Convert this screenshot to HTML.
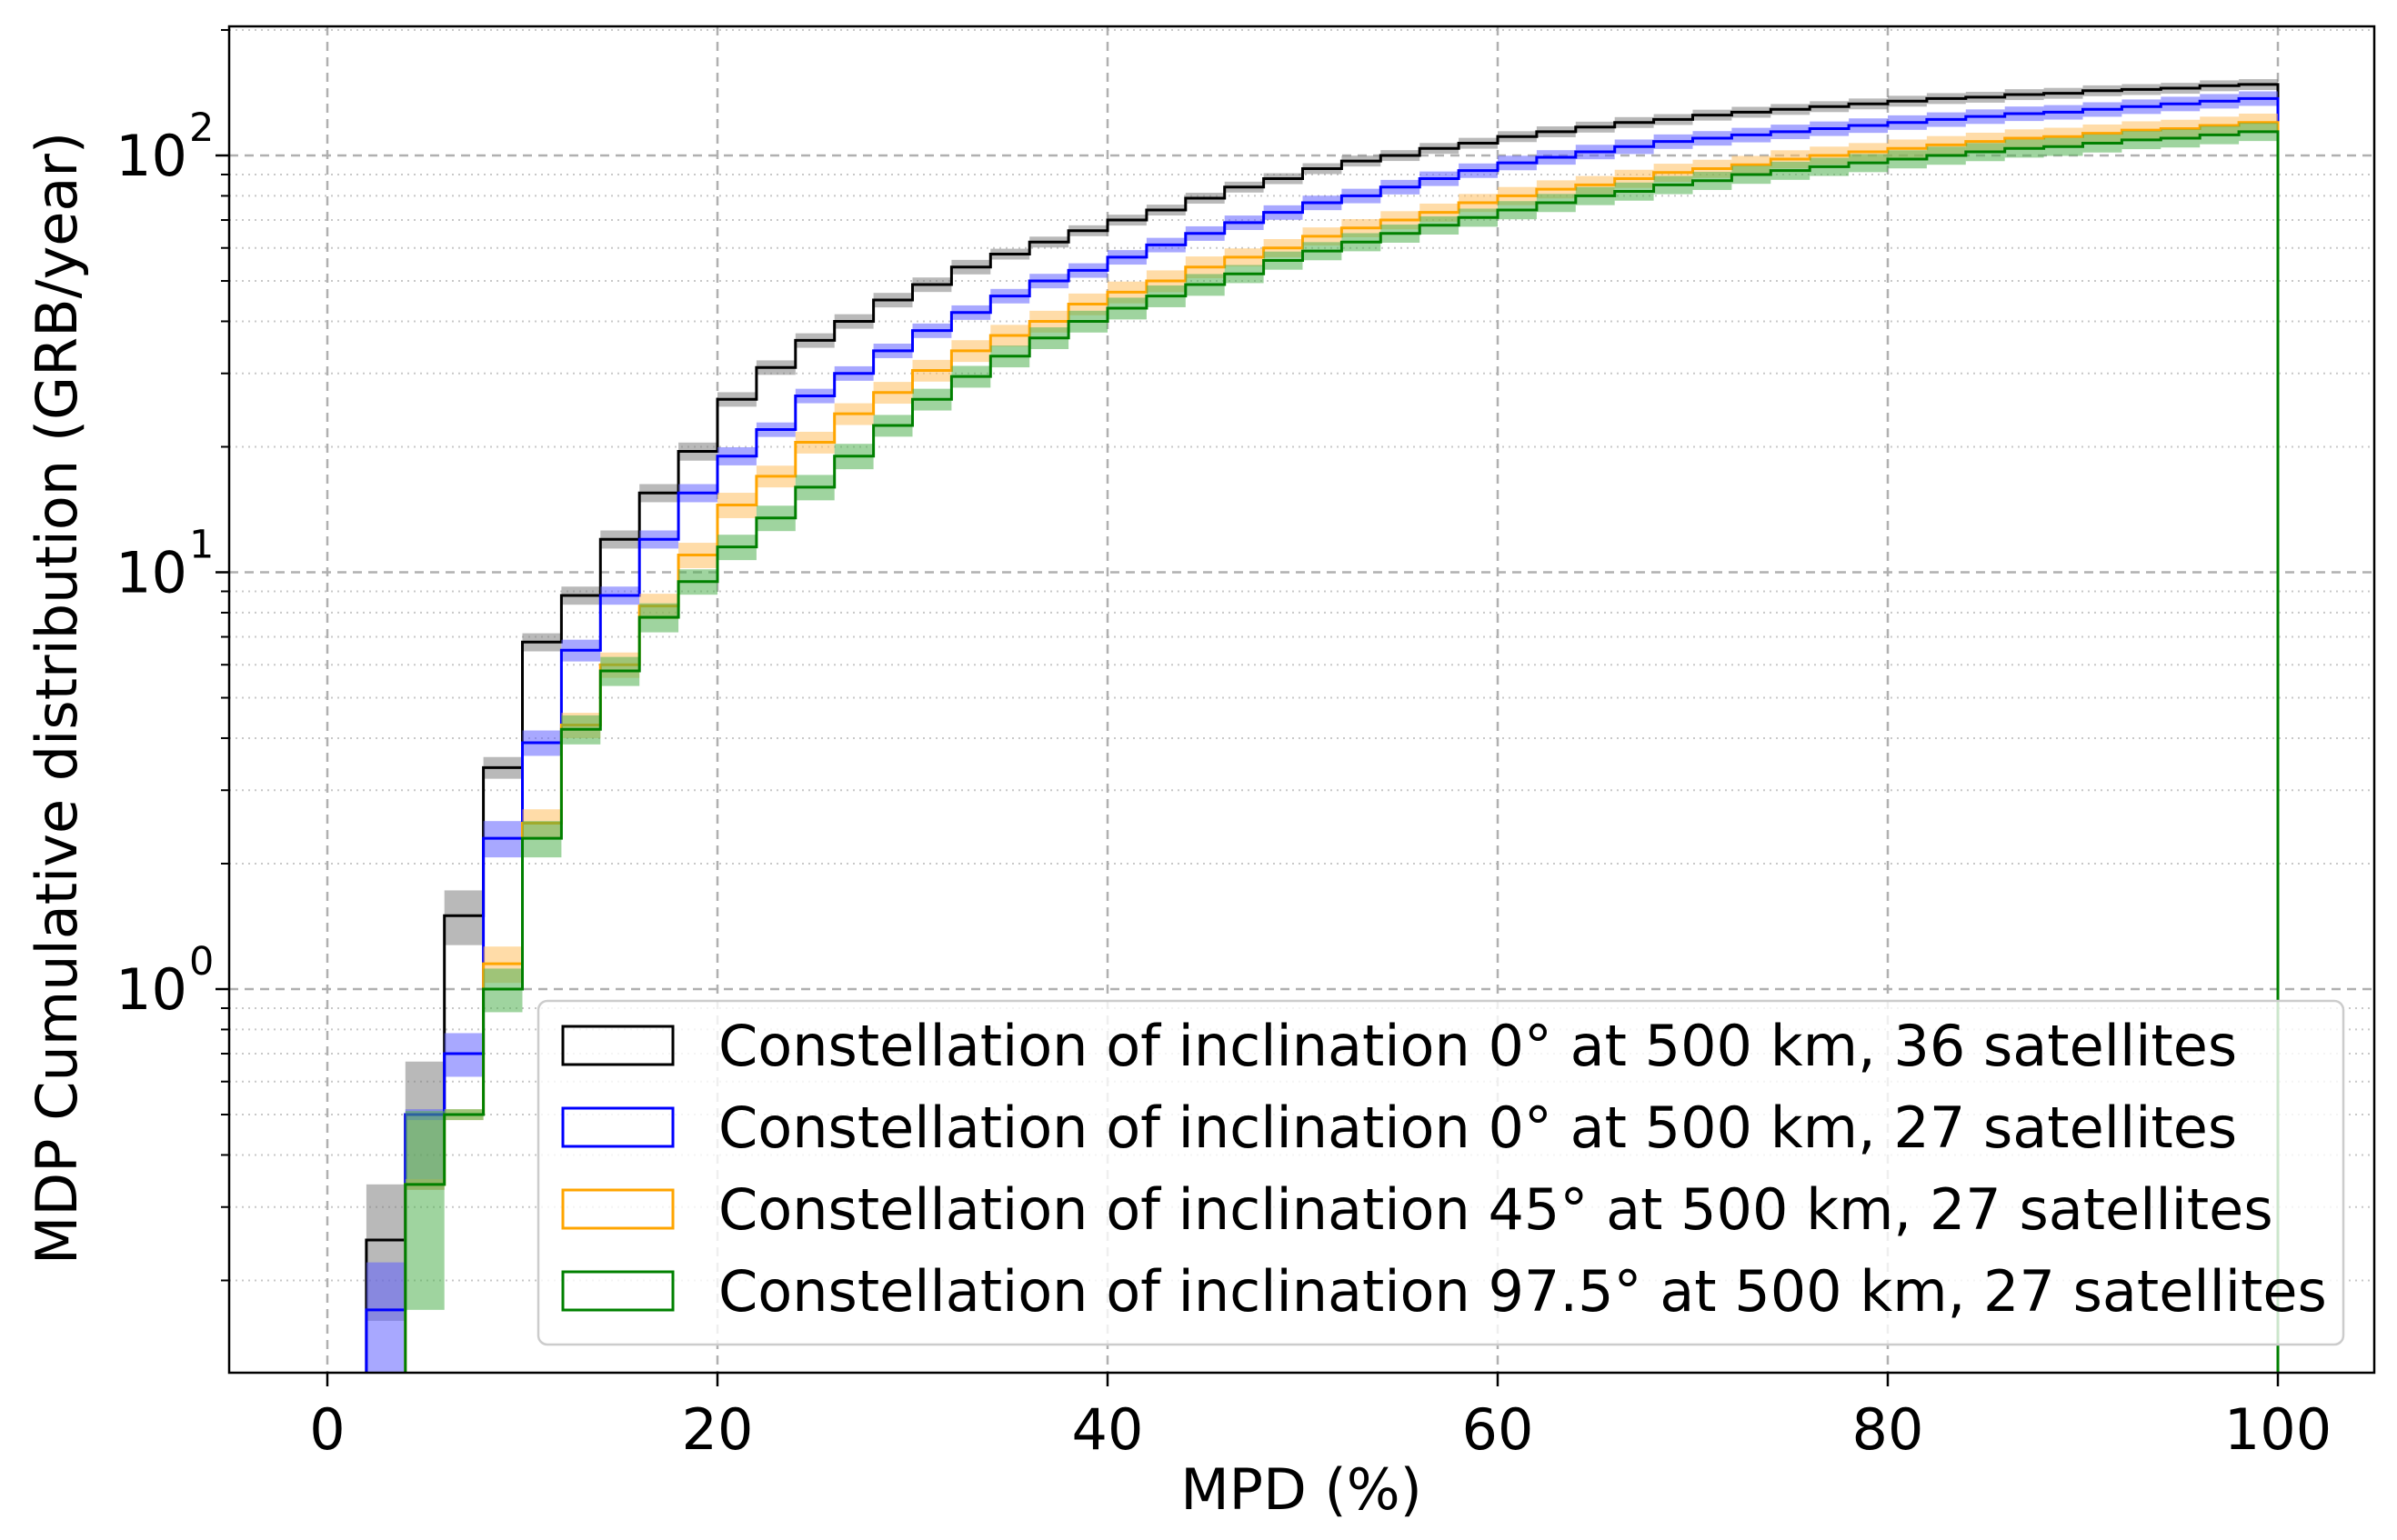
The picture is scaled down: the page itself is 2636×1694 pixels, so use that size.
<!DOCTYPE html>
<html><head><meta charset="utf-8">
<style>
html,body{margin:0;padding:0;background:#fff;}
svg{display:block;font-family:"DejaVu Sans","Liberation Sans",sans-serif;}
</style></head>
<body>
<svg id="chart" width="2636" height="1694" viewBox="0 0 2636 1694" xmlns="http://www.w3.org/2000/svg">
<rect width="2636" height="1694" fill="#fff"/>
<g id="grid"></g>
<g id="series"></g>
<g id="axes"></g>
<g id="legend"></g>
</svg>
<script>
const binStarts = [0,2,4,6,8,10,12,14,16,18,20,22,24,26,28,30,32,34,36,38,40,42,44,46,48,50,52,54,56,58,60,62,64,66,68,70,72,74,76,78,80,82,84,86,88,90,92,94,96,98];
const blackVals = [0,0.25,0.5,1.5,3.4,6.8,8.8,12,15.5,19.5,26,31,36,40,45,49,54,58,62,66,70,74,79,84,88,93,97,100,104,107,111,114,117,120,122,125,127,129,131,133,135,137,138,140,141,143,144,145,147,148];
const blueVals = [0,0.17,0.5,0.7,2.3,3.9,6.5,8.8,12,15.5,19,22,26.5,30,34,38,42,46,50,53,57,61,65,69,73,77,80,84,88,92,96,99,102,105,108,110,112,114,116,118,120,122,124,126,127,129,131,133,135,137];
const orangeVals = [0,0,0.34,0.5,1.15,2.5,4.3,6,8.3,11,14.5,17,20.5,24,27,30.5,34,37,40,44,47,50,54,57,60,64,67,70,73,77,80,83,85,88,91,93,95,98,100,102,104,106,108,110,111,113,115,116,118,120];
const greenVals = [0,0,0.34,0.5,1.0,2.3,4.2,5.8,7.8,9.5,11.5,13.5,16,19,22.5,26,29.5,33,36.5,40,43,46,49,52,56,59,62,65,68,71,74,77,80,82,85,87,90,92,94,96,98,100,102,104,105,107,109,110,112,114];
const blackErr = [0,0.36,0.34,0.15,0.06,0.05,0.05,0.05,0.05,0.05,0.04,0.04,0.04,0.04,0.04,0.04,0.04,0.03,0.03,0.03,0.03,0.03,0.03,0.03,0.03,0.03,0.03,0.03,0.03,0.03,0.03,0.03,0.03,0.03,0.03,0.03,0.03,0.03,0.03,0.03,0.03,0.03,0.03,0.03,0.03,0.03,0.03,0.03,0.03,0.03];
const blueErr = [0,0.3,0.03,0.12,0.1,0.07,0.06,0.05,0.05,0.05,0.05,0.04,0.04,0.04,0.04,0.04,0.04,0.04,0.04,0.04,0.04,0.04,0.04,0.04,0.04,0.04,0.04,0.04,0.04,0.04,0.04,0.04,0.04,0.04,0.04,0.04,0.04,0.04,0.04,0.04,0.04,0.04,0.04,0.04,0.04,0.04,0.04,0.04,0.04,0.04];
const orangeErr = [0,0,0.03,0.03,0.1,0.08,0.07,0.07,0.07,0.07,0.07,0.06,0.06,0.06,0.06,0.06,0.06,0.06,0.06,0.06,0.06,0.06,0.06,0.05,0.05,0.05,0.05,0.05,0.05,0.05,0.05,0.05,0.05,0.05,0.05,0.05,0.05,0.05,0.05,0.05,0.05,0.05,0.05,0.05,0.05,0.05,0.05,0.05,0.05,0.05];
const greenErr = [0,0,0.5,0.03,0.12,0.1,0.08,0.08,0.08,0.07,0.07,0.07,0.07,0.07,0.06,0.06,0.06,0.06,0.06,0.06,0.06,0.06,0.06,0.05,0.05,0.05,0.05,0.05,0.05,0.05,0.05,0.05,0.05,0.05,0.05,0.05,0.05,0.05,0.05,0.05,0.05,0.05,0.05,0.05,0.05,0.05,0.05,0.05,0.05,0.05];
const seriesNames = ["black-0deg-36-sats","blue-0deg-27-sats","orange-45deg-27-sats","green-97p5deg-27-sats"];
const legendLabels = ["Constellation of inclination 0° at 500 km, 36 satellites","Constellation of inclination 0° at 500 km, 27 satellites","Constellation of inclination 45° at 500 km, 27 satellites","Constellation of inclination 97.5° at 500 km, 27 satellites"];
const xTicks = [0,20,40,60,80,100];
const yTickExps = [0,1,2];
const binWidth = 2;

const NS="http://www.w3.org/2000/svg";
const L=252,R=2611,T=29,B=1510;
const X0=360,X100=2505;
const Y1=1088,DEC=458.5;
const FS=62;
function sx(v){return X0+(X100-X0)*v/100;}
function sy(v){return Y1-DEC*Math.log10(v);}
function mk(tag,attrs,parent){const e=document.createElementNS(NS,tag);for(const k in attrs)e.setAttribute(k,attrs[k]);parent.appendChild(e);return e;}
const grid=document.getElementById('grid'),series=document.getElementById('series'),axes=document.getElementById('axes'),legend=document.getElementById('legend');
const clamp=y=>Math.max(T,Math.min(B,y));

for(let e=-1;e<=2;e++){for(let m=2;m<=9;m++){const v=m*Math.pow(10,e);const y=sy(v);if(y<T||y>B)continue;
 const g=mk('line',{x1:L,x2:R,y1:y,y2:y,stroke:'#c8c8c8','stroke-width':2,'stroke-dasharray':'2,5'},grid);
 
 const t=mk('line',{x1:L-9,x2:L,y1:y,y2:y,stroke:'#000','stroke-width':2},axes);
 }}
yTickExps.forEach(e=>{const y=sy(Math.pow(10,e));
 const g=mk('line',{x1:L,x2:R,y1:y,y2:y,stroke:'#b0b0b0','stroke-width':2.5,'stroke-dasharray':'10,7'},grid);
 
 const t=mk('line',{x1:L-15,x2:L,y1:y,y2:y,stroke:'#000','stroke-width':2.5},axes);
 
 const tx=mk('text',{x:206,y:y+22,'font-size':FS,'text-anchor':'end',fill:'#000'},axes);
 
 tx.textContent='10';
 const sp=mk('text',{x:208,y:y-16,'font-size':43,'text-anchor':'start',fill:'#000'},axes);
 
 sp.textContent=String(e);});
xTicks.forEach(v=>{const x=sx(v);
 const g=mk('line',{x1:x,x2:x,y1:T,y2:B,stroke:'#b0b0b0','stroke-width':2.5,'stroke-dasharray':'10,7'},grid);
 
 const t=mk('line',{x1:x,x2:x,y1:B,y2:B+15,stroke:'#000','stroke-width':2.5},axes);
 
 const tx=mk('text',{x:x,y:1594,'font-size':FS,'text-anchor':'middle',fill:'#000'},axes);
 
 tx.textContent=String(v);});

const allVals=[blackVals,blueVals,orangeVals,greenVals];
const allErr=[blackErr,blueErr,orangeErr,greenErr];
const colors=['#000000','#0000ff','#ffa500','#008000'];
const fills=['#808080','#6060ff','#ffc060','#50b050'];
allVals.forEach((vals,si)=>{
 const g=mk('g',{},series);
 
 vals.forEach((v,i)=>{if(v<=0)return;const e=allErr[si][i];
  const y1=clamp(sy(v*(1+e))),y2=clamp(sy(v*(1-e)));
  const r=mk('rect',{x:sx(binStarts[i]),y:y1,width:sx(binStarts[i]+binWidth)-sx(binStarts[i]),height:Math.max(0,y2-y1),fill:fills[si],'fill-opacity':0.55},g);
  });
 let d='';let started=false;
 vals.forEach((v,i)=>{if(v<=0)return;const x1=sx(binStarts[i]),x2=sx(binStarts[i]+binWidth),y=clamp(sy(v));
  if(!started){d+='M'+x1+','+B+' L'+x1+','+y;started=true;}else d+=' L'+x1+','+y;
  d+=' L'+x2+','+y;});
 d+=' L'+sx(binStarts[binStarts.length-1]+binWidth)+','+B;
 const p=mk('path',{d:d,fill:'none',stroke:colors[si],'stroke-width':3},g);
 
});

const fr=mk('rect',{x:L,y:T,width:R-L,height:B-T,fill:'none',stroke:'#000','stroke-width':2.5},axes);

const xl=mk('text',{x:1431,y:1660,'font-size':FS,'text-anchor':'middle',fill:'#000'},axes);

xl.textContent='MPD (%)';
const yl=mk('text',{x:0,y:0,'font-size':FS,'text-anchor':'middle',fill:'#000',transform:'translate(84,768) rotate(-90)'},axes);

yl.textContent='MDP Cumulative distribution (GRB/year)';

const lb=mk('rect',{x:592,y:1101,width:1985,height:378,rx:10,fill:'#fff','fill-opacity':0.8,stroke:'#cccccc','stroke-width':2.5},legend);

legendLabels.forEach((lab,i)=>{const cy=1150+i*90;
 const g=mk('g',{},legend);
 
 const h=mk('rect',{x:619,y:cy-21,width:121,height:42,fill:'none',stroke:colors[i],'stroke-width':3},g);
 
 const t=mk('text',{x:790,y:cy+22,'font-size':FS,fill:'#000'},g);
 
 t.textContent=lab;});
</script>
</body></html>
